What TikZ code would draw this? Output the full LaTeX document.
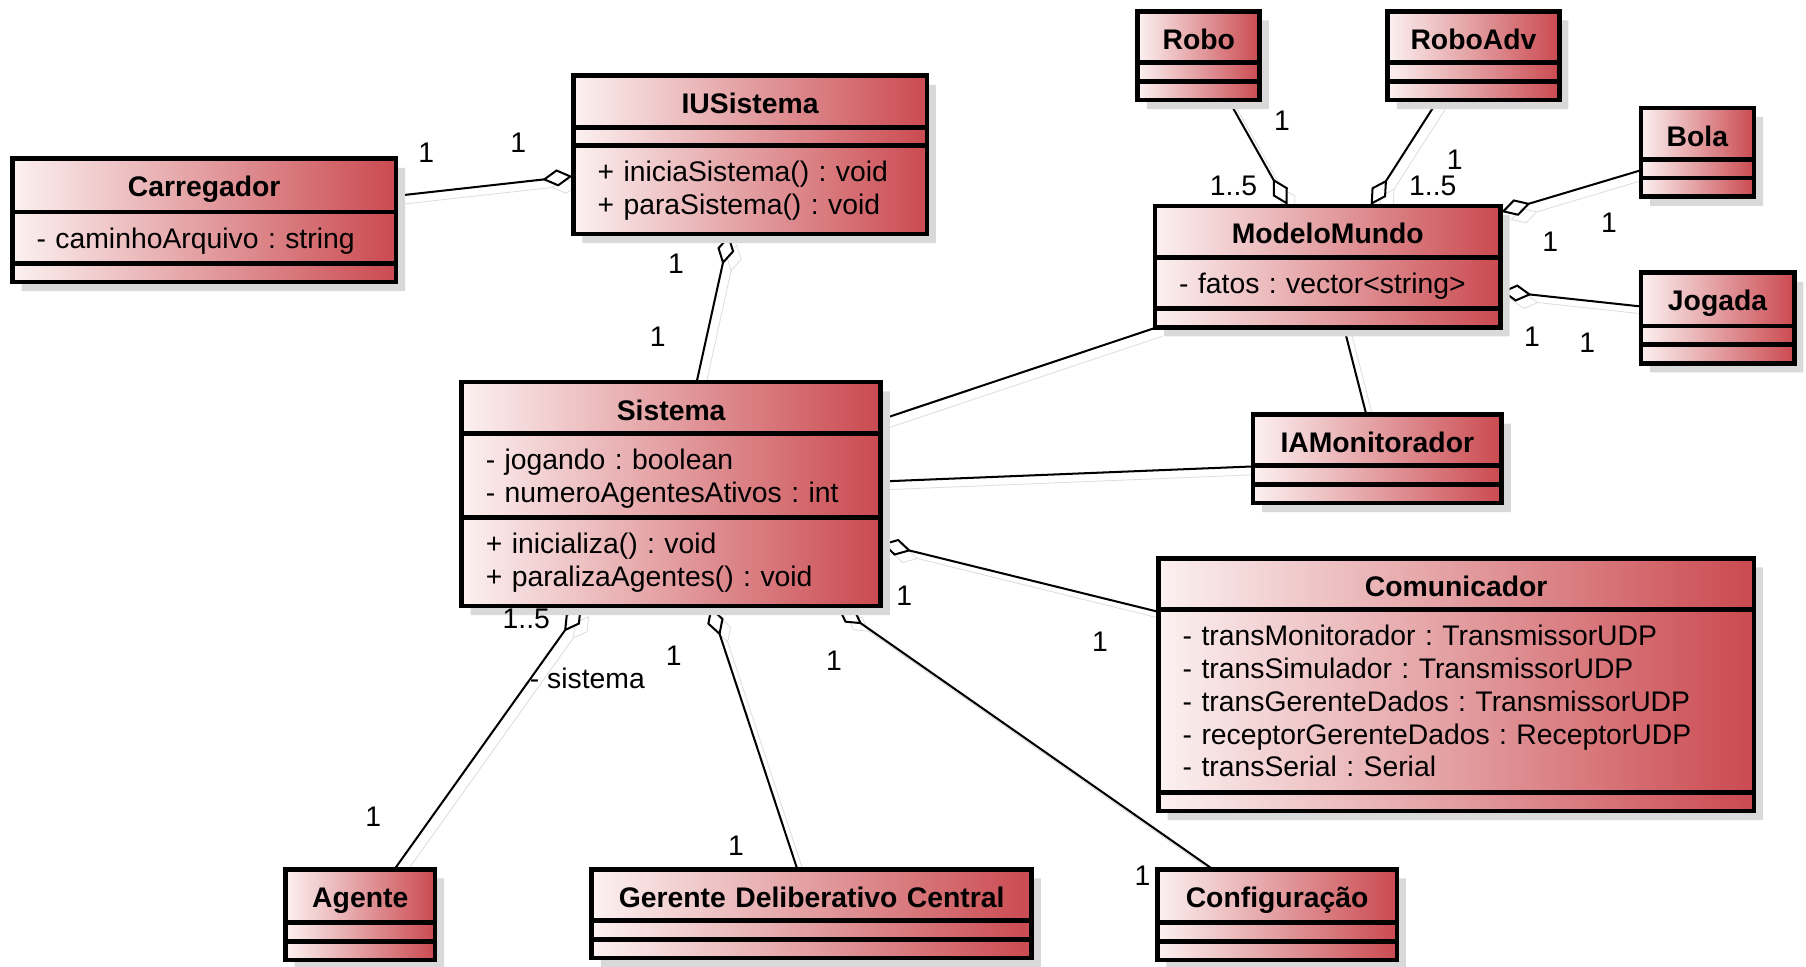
\documentclass[tikz,border=0pt]{standalone}
\usepackage{fontspec}
\setmainfont{Liberation Sans}
\frenchspacing
\usetikzlibrary{shapes.multipart}
\usetikzlibrary{arrows,arrows.meta}
\usetikzlibrary{shadows}
\definecolor{klasseHell}{RGB}{252,241,241}
\definecolor{klasseDunkel}{RGB}{202,74,80}
\definecolor{schatten}{RGB}{220,220,220}
\pgfdeclarelayer{background}
\pgfsetlayers{background,main}
\newcommand{\zeile}{\rule[-3pt]{0pt}{16.2pt}}
\newcommand{\zeilem}{\rule[-5pt]{0pt}{18.2pt}}
\newcommand{\kname}[1]{\makebox[\linewidth]{\rule[-2pt]{0pt}{16.2pt}\textbf{#1}}}

\begin{document}
\begin{tikzpicture}[x=0.02cm,y=-0.02cm,
	klasse/.style={rectangle split, rectangle split parts=3, draw, line width=0.9pt,
		anchor=north west, left color=klasseHell, right color=klasseDunkel,
		inner xsep=0.42cm, inner ysep=4.15pt, align=left,
		font=\fontsize{14}{16.2}\selectfont,
		drop shadow={shadow xshift=4.5pt, shadow yshift=-4.5pt, fill=black!15, opacity=1},
		postaction={draw, line width=2.3pt}},
	linie/.style={line width=1pt, preaction={draw=schatten, transform canvas={xshift=4pt,yshift=-4pt}}},
	aggr/.style={linie, {Diamond[fill=white,length=15pt,width=8.5pt]}-},
	mult/.style={inner sep=0pt, font=\fontsize{14}{16.2}\selectfont}]
	\useasboundingbox (0,0) rectangle (1568,839);
	% Klassen
	\node[klasse, name=carr, text width=5.82cm] at (10,137) {\kname{Carregador}
		\nodepart{two}\zeile- caminhoArquivo : string
		\nodepart{three}};
	\node[klasse, name=iusis, text width=5.30cm] at (497,65) {\kname{IUSistema}
		\nodepart{two}
		\nodepart{three}\zeile+ iniciaSistema() : void\\ \zeilem+ paraSistema() : void};
	\node[klasse, name=sis, text width=6.44cm] at (400,331) {\kname{Sistema}
		\nodepart{two}\zeile- jogando : boolean\\ \zeile- numeroAgentesAtivos : int
		\nodepart{three}\zeile+ inicializa() : void\\ \zeilem+ paralizaAgentes() : void};
	\node[klasse, name=modmun, text width=5.16cm] at (1002,178) {\kname{ModeloMundo}
		\nodepart{two}\zeile- fatos : vector<string>
		\nodepart{three}};
	\node[klasse, name=robo, text width=1.28cm] at (987,9) {\kname{Robo}
		\nodepart{two}\nodepart{three}};
	\node[klasse, name=roboadv, text width=2.14cm] at (1204,9) {\kname{RoboAdv}
		\nodepart{two}\nodepart{three}};
	\node[klasse, name=bola, text width=1.12cm] at (1424,93) {\kname{Bola}
		\nodepart{two}\nodepart{three}};
	\node[klasse, name=jogada, text width=1.82cm] at (1424,236) {\kname{Jogada}
		\nodepart{two}\nodepart{three}};
	\node[klasse, name=iamon, text width=3.48cm] at (1087,359) {\kname{IAMonitorador}
		\nodepart{two}\nodepart{three}};
	\node[klasse, name=komm, text width=9.50cm] at (1005,484) {\kname{Comunicador}
		\nodepart{two}\zeile- transMonitorador : TransmissorUDP\\
		\zeile- transSimulador : TransmissorUDP\\
		\zeile- transGerenteDados : TransmissorUDP\\
		\zeile- receptorGerenteDados : ReceptorUDP\\
		\zeile- transSerial : Serial
		\nodepart{three}};
	\node[klasse, name=agente, text width=1.76cm] at (247,754) {\kname{Agente}
		\nodepart{two}\nodepart{three}};
	\node[klasse, name=gerente, text width=6.80cm] at (513,754) {\kname{Gerente Deliberativo Central}
		\nodepart{two}\nodepart{three}};
	\node[klasse, name=konfig, text width=3.32cm] at (1004,754) {\kname{Configuração}
		\nodepart{two}\nodepart{three}};
	% Verbindungen
	\begin{pgfonlayer}{background}
	\draw[aggr] ([shift={(0,88)}]iusis.north west) -- ([shift={(0,33)}]carr.north east);
	\draw[aggr] ([shift={(136,0)}]iusis.south west) -- ([shift={(205,0)}]sis.north west);
	\draw[linie] ([shift={(0,33)}]sis.north east) -- (modmun.south west);
	\draw[linie] ([shift={(0,87)}]sis.north east) -- ([shift={(0,46)}]iamon.north west);
	\draw[linie] ([shift={(165,0)}]modmun.south west) -- ([shift={(99,0)}]iamon.north west);
	\draw[aggr] ([shift={(0,141)}]sis.north east) -- ([shift={(0,47)}]komm.north west);
	\draw[aggr] ([shift={(105,0)}]sis.south west) -- ([shift={(96,0)}]agente.north west);
	\draw[aggr] ([shift={(217,0)}]sis.south west) -- ([shift={(179,0)}]gerente.north west);
	\draw[aggr] ([shift={(327,0)}]sis.south west) -- ([shift={(48,0)}]konfig.north west);
	\draw[aggr] ([shift={(116,0)}]modmun.north west) -- ([shift={(80,0)}]robo.south west);
	\draw[aggr] ([shift={(188,0)}]modmun.north west) -- ([shift={(44,0)}]roboadv.south west);
	\draw[aggr] ([shift={(0,6)}]modmun.north east) -- ([shift={(0,55)}]bola.north west);
	\draw[aggr] ([shift={(0,75)}]modmun.north east) -- ([shift={(0,30)}]jogada.north west);
	\end{pgfonlayer}
	% Multiplizitaeten
	\node[mult, name=m1] at (370,133) {1};
	\node[mult, name=m2] at (450,124) {1};
	\node[mult, name=m3] at (587,229) {1};
	\node[mult, name=m4] at (571,292) {1};
	\node[mult, name=m5] at (785,517) {1};
	\node[mult, name=m6] at (955,557) {1};
	\node[mult, name=m7] at (457,537) {1..5};
	\node[mult, name=m8] at (510,589) {- sistema};
	\node[mult, name=m9] at (324,709) {1};
	\node[mult, name=m10] at (585,569) {1};
	\node[mult, name=m11] at (639,734) {1};
	\node[mult, name=m12] at (724,574) {1};
	\node[mult, name=m13] at (992,760) {1};
	\node[mult, name=m14] at (1113,105) {1};
	\node[mult, name=m15] at (1071,161) {1..5};
	\node[mult, name=m16] at (1263,139) {1};
	\node[mult, name=m17] at (1244,161) {1..5};
	\node[mult, name=m18] at (1397,193) {1};
	\node[mult, name=m19] at (1346,210) {1};
	\node[mult, name=m20] at (1330,292) {1};
	\node[mult, name=m21] at (1378,298) {1};
\end{tikzpicture}
\end{document}
